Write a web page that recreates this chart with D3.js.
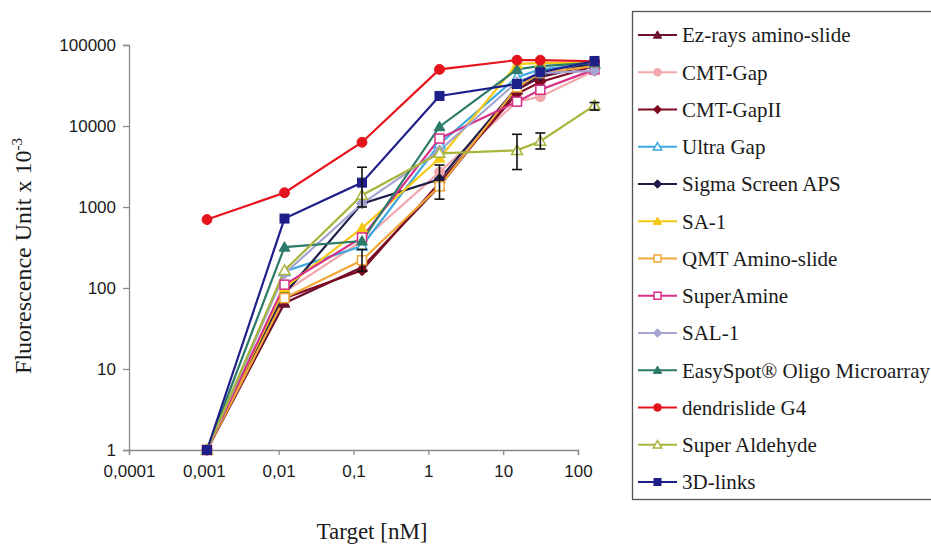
<!DOCTYPE html>
<html><head><meta charset="utf-8">
<script src="https://cdn.jsdelivr.net/npm/d3@7/dist/d3.min.js"></script>
<style>body{margin:0;background:#fff}svg{display:block}</style>
</head><body>
<svg id="chart" width="931" height="548"></svg>
<script>
// ---- data ----
const targets = [0.001, 0.01, 0.1, 1, 10, 20, 100];
const xTickValues = [0.0001, 0.001, 0.01, 0.1, 1, 10, 100];
const xTickLabels = ["0,0001", "0,001", "0,01", "0,1", "1", "10", "100"];
const yTickValues = [1, 10, 100, 1000, 10000, 100000];
const yTickLabels = ["1", "10", "100", "1000", "10000", "100000"];

const seriesNames = ["Ez-rays amino-slide","CMT-Gap","CMT-GapII","Ultra Gap","Sigma Screen APS","SA-1","QMT Amino-slide","SuperAmine","SAL-1","EasySpot® Oligo Microarray","dendrislide G4","Super Aldehyde","3D-links"];
const ezRays      = [1, 65, 180, 1800, 28000, 40000, 58000];
const cmtGap      = [1, 90, 380, 2700, 20000, 23000, 48000];
const cmtGapII    = [1, 75, 165, 2000, 25000, 35000, 55000];
const ultraGap    = [1, 160, 330, 6000, 40000, 50000, 58000];
const sigmaAPS    = [1, 85, 1100, 2200, 30000, 42000, 60000];
const sa1         = [1, 100, 550, 4000, 58000, 60000, 60000];
const qmtAmino    = [1, 75, 220, 1800, 30000, 45000, 55000];
const superAmine  = [1, 110, 420, 7000, 20000, 28000, 50000];
const sal1        = [1, 150, 1100, 5000, 35000, 45000, 48000];
const easySpot    = [1, 320, 380, 9800, 50000, 55000, 60000];
const dendrislide = [700, 1500, 6300, 50000, 65000, 65000, 63000];
const superAldehyde = [1, 165, 1400, 4600, 5000, 6500, 18000];
const links3D     = [1, 720, 2000, 23500, 33000, 46000, 63500];
const seriesValues = [ezRays, cmtGap, cmtGapII, ultraGap, sigmaAPS, sa1, qmtAmino, superAmine, sal1, easySpot, dendrislide, superAldehyde, links3D];
const seriesColors = ["#6e1030","#f2a9ad","#7d0a22","#3ea8e0","#1c1c48","#f6c816","#f0a83a","#d52f88","#a4a4d0","#2c7a68","#e5141c","#a8b43a","#1f1f8a"];
const seriesShapes = ["triangle","circle","diamond","triangle","diamond","triangle","square","square","diamond","triangle","circle","triangle","square"];
const seriesOpen   = [false,false,false,true,false,false,true,true,false,false,false,true,false];

// error bars: series index, target, low, high
const errSeries = [12, 4, 6, 11, 11, 11];
const errTarget = [0.1, 1, 0.1, 10, 20, 100];
const errLow    = [1000, 1250, 160, 2900, 5200, 15700];
const errHigh   = [3100, 3300, 300, 7900, 8200, 19500];

// ---- scales ----
const svg = d3.select("#chart");
const x = d3.scaleLog().domain([0.0001, 100]).range([129.5, 594.5]);     // data positions
const xAxisScale = d3.scaleLog().domain([0.0001, 100]).range([129, 578]); // axis as drawn
const y = d3.scaleLog().domain([1, 100000]).range([450, 45]);

const axisColor = "#8a8a8a";
// y axis
const yAxis = d3.axisLeft(y).tickValues(yTickValues).tickFormat((d,i)=>yTickLabels[i]).tickSize(6).tickPadding(7);
const gy = svg.append("g").attr("transform","translate(129,0)").call(yAxis);
gy.select(".domain").attr("stroke",axisColor).attr("stroke-width",1.3);
gy.selectAll(".tick line").attr("stroke",axisColor).attr("stroke-width",1.3);
gy.selectAll(".tick text").attr("font-family","Liberation Sans, Arial, sans-serif").attr("font-size",17).attr("fill","#1a1a1a");

// x axis
const xAxis = d3.axisBottom(xAxisScale).tickValues(xTickValues).tickFormat((d,i)=>xTickLabels[i]).tickSize(5).tickPadding(10);
const gx = svg.append("g").attr("transform","translate(0,450)").call(xAxis);
gx.select(".domain").attr("stroke",axisColor).attr("stroke-width",1.3);
gx.selectAll(".tick line").attr("stroke",axisColor).attr("stroke-width",1.3);
gx.selectAll(".tick text").attr("font-family","Liberation Sans, Arial, sans-serif").attr("font-size",17).attr("fill","#1a1a1a");

// titles
svg.append("text").attr("x",372).attr("y",539).attr("text-anchor","middle")
  .attr("font-family","Liberation Serif, Times New Roman, serif").attr("font-size",23).attr("fill","#1a1a1a").text("Target [nM]");
const yt = svg.append("text").attr("transform","translate(31,256) rotate(-90)").attr("text-anchor","middle")
  .attr("font-family","Liberation Serif, Times New Roman, serif").attr("font-size",24).attr("fill","#1a1a1a");
yt.append("tspan").text("Fluorescence Unit x 10");
yt.append("tspan").attr("font-size",15).attr("dy",-9).text("-3");

// markers
function marker(g, shape, cx, cy, color, open, s) {
  const fill = open ? "#fff" : color;
  let el;
  if (shape === "circle") el = g.append("circle").attr("cx",cx).attr("cy",cy).attr("r",s*0.55);
  else if (shape === "square") el = g.append("rect").attr("x",cx-s/2).attr("y",cy-s/2).attr("width",s).attr("height",s);
  else if (shape === "diamond") el = g.append("path").attr("d",`M${cx},${cy-s*0.6}L${cx+s*0.6},${cy}L${cx},${cy+s*0.6}L${cx-s*0.6},${cy}Z`);
  else el = g.append("path").attr("d",`M${cx},${cy-s*0.6}L${cx+s*0.6},${cy+s*0.45}L${cx-s*0.6},${cy+s*0.45}Z`);
  el.attr("fill",fill).attr("stroke",color).attr("stroke-width",open?1.5:1);
}

const line = d3.line().x(d=>x(d[0])).y(d=>y(d[1]));
const plot = svg.append("g");
seriesValues.forEach((vals,i)=>{
  const pts = targets.map((t,j)=>[t, vals[j]]);
  plot.append("path").datum(pts).attr("d",line).attr("fill","none")
    .attr("stroke",seriesColors[i]).attr("stroke-width",2.2);
});
seriesValues.forEach((vals,i)=>{
  const g = plot.append("g");
  targets.forEach((t,j)=>marker(g, seriesShapes[i], x(t), y(vals[j]), seriesColors[i], seriesOpen[i], 9));
});
// error bars
errSeries.forEach((s,k)=>{
  const cx = x(errTarget[k]);
  const g = plot.append("g").attr("stroke","#111").attr("stroke-width",1.6);
  g.append("line").attr("x1",cx).attr("x2",cx).attr("y1",y(errLow[k])).attr("y2",y(errHigh[k]));
  g.append("line").attr("x1",cx-5).attr("x2",cx+5).attr("y1",y(errLow[k])).attr("y2",y(errLow[k]));
  g.append("line").attr("x1",cx-5).attr("x2",cx+5).attr("y1",y(errHigh[k])).attr("y2",y(errHigh[k]));
});

// legend
const lg = svg.append("g");
lg.append("rect").attr("x",632.5).attr("y",11.5).attr("width",320).attr("height",488)
  .attr("fill","#fff").attr("stroke","#555").attr("stroke-width",1.3);
const ly = d3.scalePoint().domain(seriesNames).range([35, 482]);
seriesNames.forEach((name,i)=>{
  const yy = ly(name);
  lg.append("line").attr("x1",638).attr("x2",677).attr("y1",yy).attr("y2",yy)
    .attr("stroke",seriesColors[i]).attr("stroke-width",2.2);
  marker(lg, seriesShapes[i], 657.5, yy, seriesColors[i], seriesOpen[i], 7);
  lg.append("text").attr("x",682).attr("y",yy).attr("dy","0.35em")
    .attr("font-family","Liberation Serif, Times New Roman, serif").attr("font-size",21).attr("fill","#1a1a1a").text(name);
});
</script>
</body></html>
